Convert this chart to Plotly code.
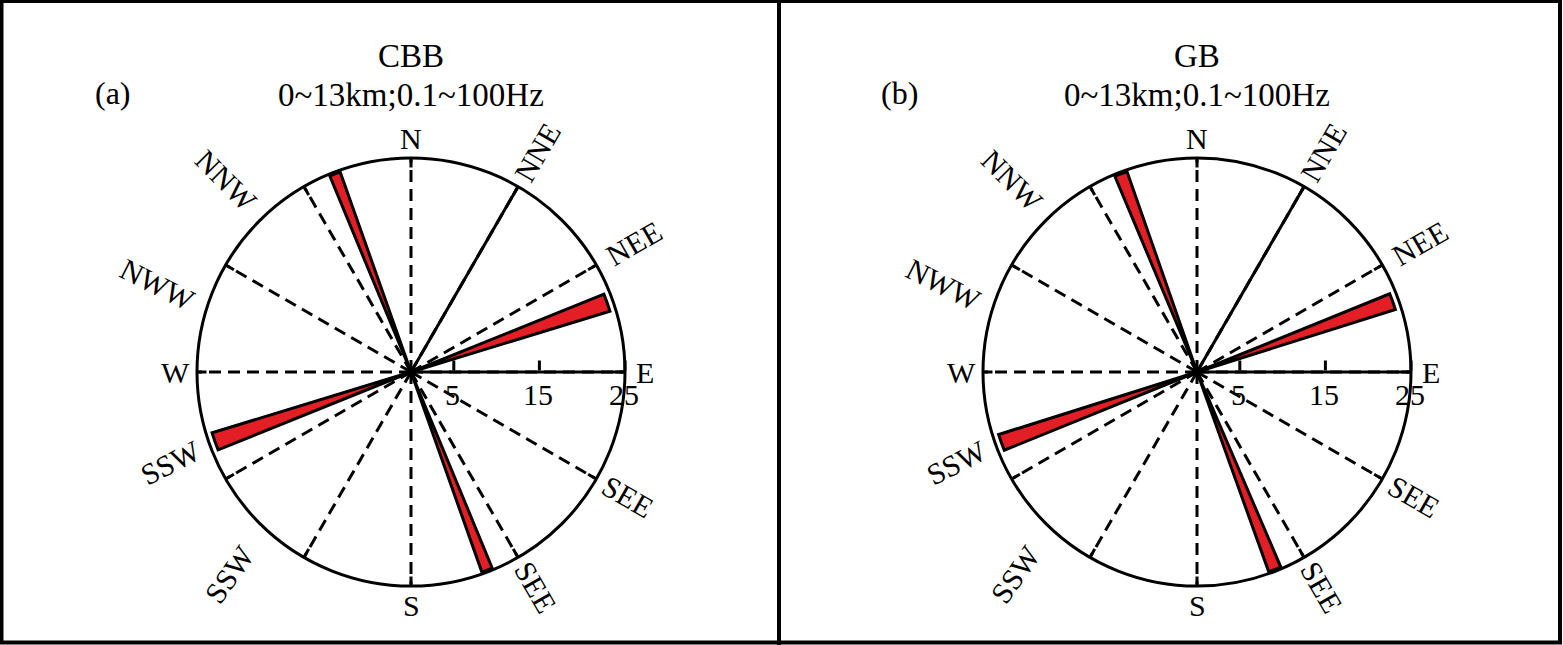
import math
import plotly.graph_objects as go

# ---- data ----
panel_tags = ["(a)", "(b)"]
panel_titles = ["CBB", "GB"]
panel_subtitle = "0~13km;0.1~100Hz"

# rose petals (bearing of petal centre, angular width, length)
petal_dirs_a = [339.0, 70.5, 159.0, 250.5]
petal_widths_a = [3.0, 5.0, 3.0, 5.0]
petal_lengths_a = [24.8, 24.3, 24.8, 24.3]

petal_dirs_b = [339.0, 70.2, 158.5, 250.2]
petal_widths_b = [3.5, 4.6, 3.5, 4.6]
petal_lengths_b = [24.8, 24.3, 24.8, 24.3]

dir_angles = [0, 30, 60, 90, 120, 150, 180, 210, 240, 270, 300, 330]
dir_labels = ["N", "NNE", "NEE", "E", "SEE", "SEE", "S", "SSW", "SSW", "W", "NWW", "NNW"]
solid_dirs = [30]
radial_ticks = [5, 15, 25]
r_max = 25

# ---- layout constants ----
W, H = 1563, 645
FONT = "Liberation Serif"
RED = "#e31e24"
centers_px = [(411, 372), (1197, 372)]
radius_px = 214

# where each compass label sits (bearing, distance in px from centre, text rotation)
label_bearing = [0, 30, 60, 90, 120, 150, 180, 222, 249.5, 270, 289, 316]
label_dist = [234, 253, 257, 234, 250, 248, 233, 272, 257, 236, 268, 266]
label_rot = [0, -60, -30, 0, 30, 60, 0, -55, -27, 0, 27, 45]
label_size = 30


def px_to_paper(x, y):
    return x / W, 1 - y / H


def text_note(x_px, y_px, text, size, angle=0):
    x, y = px_to_paper(x_px, y_px)
    return dict(x=x, y=y, xref="paper", yref="paper", text=text, showarrow=False,
                xanchor="center", yanchor="middle", textangle=angle,
                font=dict(family=FONT, size=size, color="black"))


fig = go.Figure()
annotations = []
polar_layouts = {}

panels = [
    (petal_dirs_a, petal_widths_a, petal_lengths_a),
    (petal_dirs_b, petal_widths_b, petal_lengths_b),
]

for i, (dirs, widths, lengths) in enumerate(panels):
    key = "polar" if i == 0 else f"polar{i + 1}"
    cx, cy = centers_px[i]

    # solid reference lines
    for d in solid_dirs:
        fig.add_trace(
            go.Scatterpolar(
                r=[0, r_max],
                theta=[d, d],
                mode="lines",
                line=dict(color="black", width=3),
                subplot=key,
                showlegend=False,
                hoverinfo="skip",
            )
        )

    fig.add_trace(
        go.Barpolar(
            r=lengths,
            theta=dirs,
            width=widths,
            marker=dict(color=RED, line=dict(color="black", width=3)),
            subplot=key,
            showlegend=False,
        )
    )

    polar_layouts[key] = dict(
        domain=dict(
            x=[(cx - radius_px) / W, (cx + radius_px) / W],
            y=[1 - (cy + radius_px) / H, 1 - (cy - radius_px) / H],
        ),
        bgcolor="white",
        angularaxis=dict(
            rotation=90,
            direction="clockwise",
            tickmode="array",
            tickvals=dir_angles,
            showticklabels=False,
            ticks="inside",
            ticklen=8,
            tickwidth=2.5,
            tickcolor="black",
            showline=True,
            linecolor="black",
            linewidth=3,
            showgrid=True,
            gridcolor="black",
            gridwidth=2.8,
            griddash="12px,7px",
        ),
        radialaxis=dict(
            range=[0, r_max],
            angle=0,
            tickmode="array",
            tickvals=radial_ticks,
            showticklabels=False,
            ticks="inside",
            ticklen=10,
            tickwidth=2.5,
            tickcolor="black",
            showline=True,
            linecolor="black",
            linewidth=3,
            showgrid=False,
        ),
    )

    # radial tick labels, just below the E axis
    for v in radial_ticks:
        annotations.append(text_note(cx + v / r_max * radius_px - 1, 394, str(v), 30))

    # titles
    annotations.append(text_note(cx, 56, panel_titles[i], 33))
    annotations.append(text_note(cx, 95, panel_subtitle, 33))
    annotations.append(text_note(cx - 298, 93, panel_tags[i], 32))

    # compass labels
    for lab, b, d, rot in zip(dir_labels, label_bearing, label_dist, label_rot):
        lx = cx + d * math.sin(math.radians(b))
        ly = cy - d * math.cos(math.radians(b))
        annotations.append(text_note(lx, ly, lab, label_size, rot))

shapes = [
    dict(type="rect", xref="paper", yref="paper", x0=1.5 / W, x1=1 - 3 / W,
         y0=2.5 / H, y1=1 - 1 / H, line=dict(color="black", width=4)),
    dict(type="line", xref="paper", yref="paper", x0=779 / W, x1=779 / W,
         y0=0, y1=1, line=dict(color="black", width=4)),
]

fig.update_layout(
    width=W,
    height=H,
    margin=dict(l=0, r=0, t=0, b=0),
    paper_bgcolor="white",
    plot_bgcolor="white",
    showlegend=False,
    annotations=annotations,
    shapes=shapes,
    **polar_layouts,
)

fig.write_html(
    "out.html",
    config={"displayModeBar": False},
    post_script="document.body.style.margin='0';document.body.style.overflow='hidden';",
)
